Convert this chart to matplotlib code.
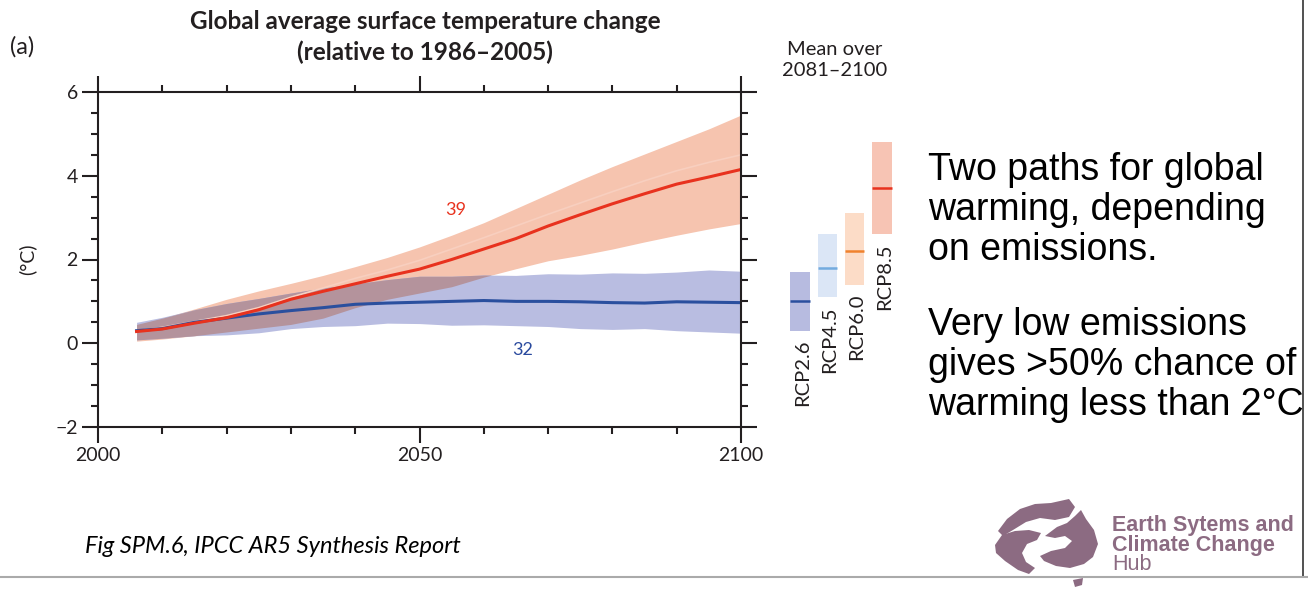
import matplotlib
matplotlib.use("Agg")
import numpy as np
import matplotlib.pyplot as plt
from matplotlib.lines import Line2D
from matplotlib.patches import Polygon
from matplotlib.ticker import MultipleLocator

# ---- data ----
years = [2006, 2010, 2015, 2020, 2025, 2030, 2035, 2040, 2045, 2050,
         2055, 2060, 2065, 2070, 2075, 2080, 2085, 2090, 2095, 2100]

rcp85_mean = [0.28, 0.34, 0.48, 0.61, 0.80, 1.05, 1.24, 1.42, 1.60, 1.77,
              2.00, 2.25, 2.50, 2.80, 3.07, 3.33, 3.57, 3.80, 3.97, 4.15]
rcp85_high = [0.45, 0.60, 0.82, 1.05, 1.25, 1.43, 1.62, 1.83, 2.05, 2.30,
              2.58, 2.88, 3.22, 3.56, 3.90, 4.22, 4.52, 4.82, 5.12, 5.45]
rcp85_low = [0.05, 0.10, 0.18, 0.27, 0.36, 0.45, 0.60, 0.85, 1.05, 1.20,
             1.35, 1.58, 1.78, 1.97, 2.10, 2.25, 2.42, 2.58, 2.73, 2.86]
rcp85_faint = [0.30, 0.38, 0.52, 0.66, 0.85, 1.10, 1.32, 1.55, 1.75, 1.98,
               2.25, 2.52, 2.80, 3.08, 3.35, 3.62, 3.88, 4.12, 4.32, 4.50]

rcp26_mean = [0.30, 0.35, 0.50, 0.60, 0.70, 0.78, 0.85, 0.93, 0.96, 0.98,
              1.00, 1.02, 1.00, 1.00, 0.99, 0.97, 0.96, 0.99, 0.98, 0.97]
rcp26_high = [0.50, 0.62, 0.80, 0.95, 1.07, 1.20, 1.32, 1.42, 1.52, 1.60,
              1.60, 1.63, 1.62, 1.66, 1.65, 1.68, 1.67, 1.70, 1.75, 1.72]
rcp26_low = [0.08, 0.12, 0.18, 0.20, 0.25, 0.35, 0.40, 0.42, 0.48, 0.47,
             0.43, 0.44, 0.42, 0.40, 0.35, 0.33, 0.35, 0.30, 0.27, 0.24]

# mean over 2081-2100 bars
scenarios = ["RCP2.6", "RCP4.5", "RCP6.0", "RCP8.5"]
bar_mean = [1.0, 1.8, 2.2, 3.7]
bar_low = [0.3, 1.1, 1.4, 2.6]
bar_high = [1.7, 2.6, 3.1, 4.8]
bar_fill = ["#b7bbe0", "#dbe6f6", "#fcdcc7", "#f7c4b4"]
bar_line = ["#2a4f9e", "#73abdf", "#f0822e", "#e8321e"]

n_models = {"RCP8.5": 39, "RCP2.6": 32}

NARROW = ["Lato", "DejaVu Sans"]
ARIAL = ["Liberation Sans", "DejaVu Sans"]
TXT = "#231f20"

fig = plt.figure(figsize=(13.08, 5.89), dpi=100)

ax = fig.add_axes([98 / 1308, 1 - 427 / 589, 643 / 1308, 335 / 589])

# bands: the overlap is shaded like the two colours multiplied
ov_low = np.maximum(rcp85_low, rcp26_low)
ov_high = np.minimum(rcp85_high, rcp26_high)
ax.fill_between(years, rcp85_low, rcp85_high, color="#f6c4af", lw=0)
ax.plot(years, rcp85_faint, color="#f8cfbf", lw=1.2)
ax.fill_between(years, rcp26_low, rcp26_high, color="#b9bde1", lw=0)
ax.fill_between(years, ov_low, ov_high, where=ov_high > ov_low,
                interpolate=True, color="#b4939c", lw=0)
ax.plot(years, rcp26_mean, color="#2a4f9e", lw=2.2)
ax.plot(years, rcp85_mean, color="#e8321e", lw=2.2)

ax.text(2055.6, 3.18, str(n_models["RCP8.5"]), color="#e8321e", fontsize=13,
        ha="center", va="center", family=NARROW)
ax.text(2066, -0.15, str(n_models["RCP2.6"]), color="#2a4a9e", fontsize=13,
        ha="center", va="center", family=NARROW)

ax.set_xlim(2000, 2100)
ax.set_ylim(-2, 6)
ax.xaxis.set_major_locator(MultipleLocator(50))
ax.xaxis.set_minor_locator(MultipleLocator(10))
ax.set_yticks([-2, 0, 2, 4, 6], ["\u22122", "0", "2", "4", "6"])
ax.yaxis.set_minor_locator(MultipleLocator(0.5))
ax.tick_params(which="both", direction="out", top=True, right=True,
               width=1.5, color=TXT, labelcolor=TXT)
ax.tick_params(which="major", length=11.5, labelsize=14, pad=3)
ax.tick_params(which="minor", length=5)
for lab in ax.get_xticklabels() + ax.get_yticklabels():
    lab.set_family(NARROW)
for sp in ax.spines.values():
    sp.set_linewidth(1.5)
    sp.set_color(TXT)
ax.set_ylabel("(\u00b0C)", fontsize=14, family=NARROW, color=TXT, labelpad=14)

# mean over 2081-2100 bars, same vertical scale as main axes
bx = fig.add_axes([786.35 / 1308, 1 - 427 / 589, 109.3 / 1308, 335 / 589])
bx.set_xlim(-0.5, 3.5)
bx.set_ylim(-2, 6)
bx.axis("off")
pos = range(len(scenarios))
heights = [h - l for h, l in zip(bar_high, bar_low)]
bx.bar(pos, heights, bottom=bar_low, width=0.72, color=bar_fill, lw=0)
for i, name in enumerate(scenarios):
    bx.hlines(bar_mean[i], i - 0.36, i + 0.36, color=bar_line[i], lw=1.8)
    bx.text(i + 0.08, bar_low[i] - 0.22, name, rotation=90, ha="center", va="top",
            fontsize=14.5, family=NARROW, color=TXT)

fig.text(835 / 1308, 1 - 60 / 589, "Mean over\n2081\u20132100", ha="center",
         va="center", fontsize=14.5, family=NARROW, color=TXT, linespacing=1.35)

# titles
fig.text(425 / 1308, 1 - 37 / 589,
         "Global average surface temperature change\n(relative to 1986\u20132005)",
         ha="center", va="center", fontsize=17.5, fontweight="bold",
         family=NARROW, color=TXT, linespacing=1.35)
fig.text(10 / 1308, 1 - 47 / 589, "(a)", ha="left", va="center", fontsize=17,
         family=NARROW, color=TXT)

# slide text
para1 = ["Two paths for global", "warming, depending", "on emissions."]
para2 = ["Very low emissions", "gives >50% chance of", "warming less than 2\u00b0C"]
for k, line in enumerate(para1):
    fig.text(928 / 1308, 1 - (180 + 40 * k) / 589, line, ha="left", va="baseline",
             fontsize=27, family=ARIAL, color="black")
for k, line in enumerate(para2):
    fig.text(928 / 1308, 1 - (335 + 40 * k) / 589, line, ha="left", va="baseline",
             fontsize=27, family=ARIAL, color="black")

fig.text(85 / 1308, 1 - 553 / 589, "Fig SPM.6, IPCC AR5 Synthesis Report",
         ha="left", va="baseline", fontsize=17, style="italic",
         family=NARROW, color="black")

# logo
PURPLE = "#8c6b82"
lx = fig.add_axes([985 / 1308, 0, 120 / 1308, 94 / 589])
lx.set_xlim(0, 120)
lx.set_ylim(0, 94)
lx.axis("off")
logo_parts = [
    [(13, 58), (22, 70), (35, 80), (50, 85), (66, 86), (84, 90), (90, 82),
     (84, 72), (70, 69), (55, 71), (41, 67), (28, 59), (18, 53)],
    [(10, 44), (17, 54), (30, 58), (44, 59), (56, 56), (52, 49), (42, 45),
     (37, 36), (41, 27), (50, 21), (44, 15), (33, 19), (20, 28), (11, 36)],
    [(60, 53), (72, 62), (82, 66), (90, 73), (96, 79), (101, 70), (109, 59),
     (113, 45), (108, 32), (99, 25), (85, 21), (71, 23), (59, 28), (55, 33),
     (66, 38), (80, 41), (87, 48), (80, 53), (70, 51)],
    [(88, 9), (98, 11), (97, 4), (90, 2)],
]
for part in logo_parts:
    lx.add_patch(Polygon(part, closed=True, color=PURPLE, lw=0))

fig.text(1112 / 1308, 1 - 526 / 589, "Earth Sytems and", ha="left", va="center",
         fontsize=15.5, fontweight="bold", color=PURPLE, family=ARIAL)
fig.text(1112 / 1308, 1 - 546 / 589, "Climate Change", ha="left", va="center",
         fontsize=15.5, fontweight="bold", color=PURPLE, family=ARIAL)
fig.text(1112 / 1308, 1 - 565 / 589, "Hub", ha="left", va="center",
         fontsize=15.5, color=PURPLE, family=ARIAL)

# slide frame
fig.add_artist(Line2D([1303 / 1308, 1303 / 1308], [1 - 577 / 589, 1],
                      color="#333333", lw=1.2))
fig.add_artist(Line2D([0, 1], [1 - 577 / 589, 1 - 577 / 589],
                      color="#aaaaaa", lw=1.5))

fig.savefig("out.png", dpi=100)
